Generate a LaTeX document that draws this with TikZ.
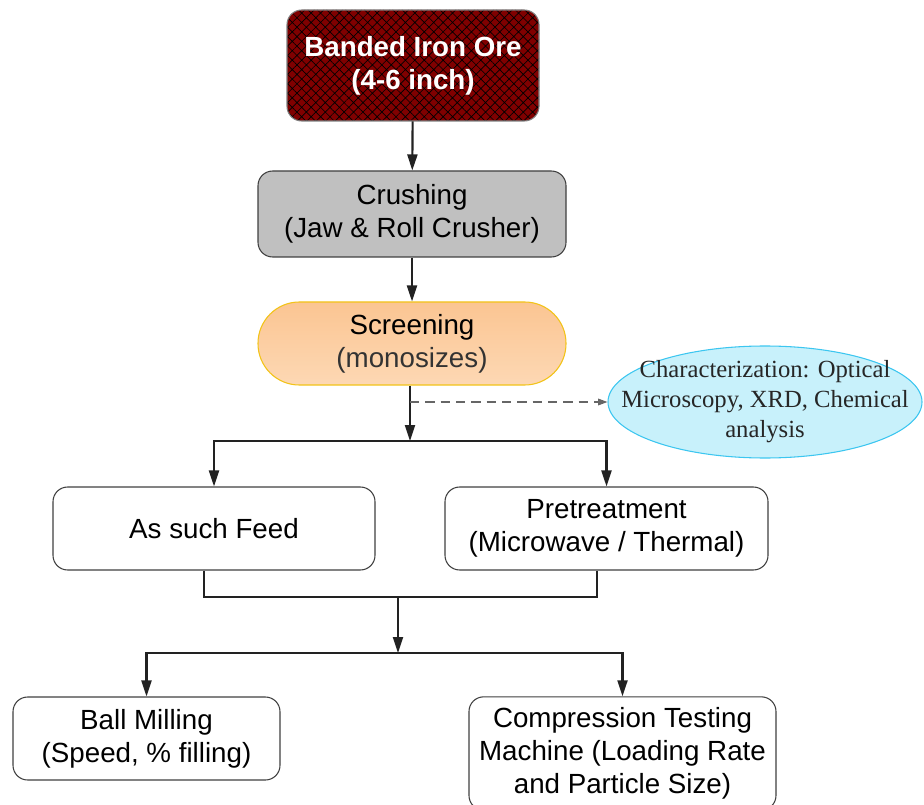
\documentclass[tikz,border=0pt]{standalone}
\usepackage{fontspec}
\setmainfont{Liberation Sans}
\newfontfamily\charfont{Liberation Serif}
\usetikzlibrary{shapes.geometric,arrows.meta,patterns.meta}
\definecolor{oreRed}{HTML}{800000}
\definecolor{crushGray}{HTML}{C0C0C0}
\definecolor{scrTop}{HTML}{FBC592}
\definecolor{scrBot}{HTML}{FDD8B4}
\definecolor{scrLine}{HTML}{F2C318}
\definecolor{charFill}{HTML}{C8F1FB}
\definecolor{charLine}{HTML}{3CC6F0}
\definecolor{boxLine}{HTML}{404040}
\definecolor{lineDark}{HTML}{222222}
\begin{document}
\begin{tikzpicture}[x=0.75pt,y=-0.75pt,
    box/.style={draw=boxLine, line width=0.8pt, rounded corners=11pt, align=center,
      inner sep=2pt, font=\fontsize{20.8}{24.75}\selectfont},
    arr/.style={draw=lineDark, line width=1.6pt, -{Triangle[length=12pt,width=7.5pt]}},
    link/.style={draw=lineDark, line width=1.6pt},
    dasharr/.style={draw=gray!80!black, line width=0.8pt, dash pattern=on 7pt off 4.5pt,
      -{Triangle[length=7pt,width=5pt]}}]
  \useasboundingbox (0,0) rectangle (924,805);

  % process boxes
  \node[box, preaction={fill=oreRed}, pattern={Hatch[angle=45,distance=5pt,line width=0.5pt]},
    pattern color=black, draw=gray, text=white, font=\bfseries\fontsize{20.8}{24.75}\selectfont,
    minimum width=189pt, minimum height=83.25pt] (ore) at (413,65.5)
    {Banded Iron Ore\\(4-6 inch)};
  \node[box, fill=crushGray, minimum width=231pt, minimum height=64.5pt] (crush) at (412,214)
    {Crushing\\(Jaw \& Roll Crusher)};
  \node[box, draw=scrLine, top color=scrTop, bottom color=scrBot, rounded corners=31pt,
    minimum width=231pt, minimum height=62.25pt] (screen) at (412,343.5)
    {Screening\\\textcolor{black!80}{(monosizes)}};
  \node[ellipse, draw=charLine, fill=charFill, line width=0.8pt, align=center,
    inner xsep=-26pt, inner ysep=-7pt,
    text=black!85, font=\charfont\fontsize{18.5}{22.5}\selectfont,
    minimum width=235.5pt, minimum height=84pt] (charac) at (765,402)
    {Characterization: Optical\\Microscopy, XRD, Chemical\\analysis};
  \node[box, fill=white, minimum width=241.5pt, minimum height=62.25pt] (feed) at (214,528.5)
    {As such Feed};
  \node[box, fill=white, minimum width=242.25pt, minimum height=62.25pt] (pretreat) at (606.5,528.5)
    {Pretreatment\\(Microwave / Thermal)};
  \node[box, fill=white, minimum width=200.25pt, minimum height=62.25pt] (mill) at (146.5,738.5)
    {Ball Milling\\(Speed, \% filling)};
  \node[box, fill=white, minimum width=230.25pt, minimum height=85pt] (ctm) at (622.5,753.5)
    {Compression Testing\\Machine (Loading Rate\\and Particle Size)};

  % junction points
  \coordinate (tap) at (410,402);
  \coordinate (split) at (410,441);
  \coordinate (join) at (398,597);
  \coordinate (split2) at (398,653);

  \draw[arr] (ore) -- (crush);
  \draw[arr] (crush) -- (screen);
  \draw[arr] (screen.south -| split) -- (split);
  \draw[dasharr] (tap) -- (tap -| charac.west);
  \draw[arr] (split) -| (feed.north);
  \draw[arr] (split) -| (pretreat.north);

  \draw[link] ([xshift=-7.5pt]feed.south) |- (join);
  \draw[link] ([xshift=-7pt]pretreat.south) |- (join);
  \draw[arr] (join) -- (split2);
  \draw[arr] (split2) -| (mill.north);
  \draw[arr] (split2) -| (ctm.north);
\end{tikzpicture}
\end{document}
